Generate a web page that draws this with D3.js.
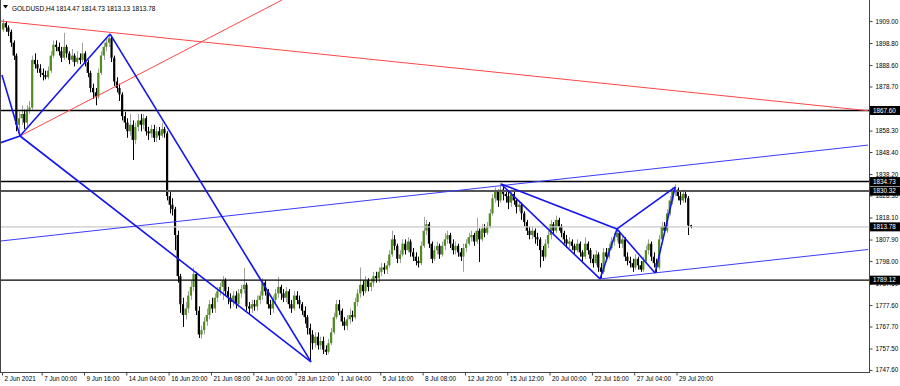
<!DOCTYPE html>
<html>
<head>
<meta charset="utf-8">
<script src="https://cdn.jsdelivr.net/npm/d3@7"></script>
<style>
body { margin: 0; background: #fff; }
#chart1 { width: 900px; height: 386px; }
text { font-family: 'Liberation Sans', Arial, sans-serif; }
</style>
</head>
<body>
<div id="chart1"></div>
<script>
'use strict';

var symbol = 'GOLDUSD,H4';
var firstOpen = 1905;

// H4 bars, 2 Jun - 30 Jul 2021 (open = previous close)
var closes = [
	1908, 1906, 1904, 1899, 1893, 1861, 1864, 1866, 1862, 1868,
	1869, 1891, 1889, 1887, 1885, 1884, 1883, 1886, 1893, 1898,
	1897, 1895, 1892, 1897, 1894, 1891, 1893, 1890, 1892, 1891,
	1894, 1890, 1885, 1878, 1876, 1874, 1885, 1893, 1897, 1899,
	1901, 1892, 1881, 1878, 1875, 1865, 1862, 1858, 1861, 1854,
	1860, 1863, 1861, 1864, 1858, 1857, 1859, 1855, 1858, 1856,
	1859, 1857, 1828, 1824, 1822, 1810, 1791, 1778, 1773, 1776,
	1782, 1786, 1792, 1775, 1764, 1766, 1770, 1773, 1778, 1776,
	1781, 1784, 1786, 1789, 1784, 1781, 1779, 1782, 1778, 1783,
	1785, 1787, 1777, 1776, 1778, 1777, 1780, 1782, 1788, 1784,
	1778, 1776, 1780, 1783, 1786, 1783, 1781, 1784, 1778, 1776,
	1782, 1780, 1778, 1775, 1772, 1767, 1764, 1760, 1763, 1759,
	1761, 1757, 1756, 1760, 1765, 1772, 1778, 1775, 1770, 1768,
	1771, 1773, 1772, 1779, 1783, 1787, 1784, 1789, 1786, 1788,
	1791, 1790, 1793, 1795, 1794, 1796, 1801, 1808, 1805, 1799,
	1801, 1806, 1803, 1807, 1802, 1800, 1798, 1797, 1805, 1812,
	1815, 1806, 1799, 1803, 1805, 1801, 1805, 1808, 1810, 1806,
	1803, 1805, 1802, 1800, 1804, 1806, 1809, 1810, 1807, 1812,
	1808, 1813, 1811, 1814, 1820, 1827, 1830, 1826, 1831, 1829,
	1828, 1825, 1829, 1826, 1823, 1824, 1820, 1816, 1812, 1810,
	1812, 1809, 1808, 1803, 1800, 1806, 1810, 1815, 1812, 1817,
	1814, 1811, 1808, 1806, 1807, 1805, 1803, 1806, 1802, 1800,
	1806, 1803, 1799, 1797, 1801, 1795, 1793, 1802, 1800, 1804,
	1807, 1809, 1811, 1806, 1808, 1800, 1798, 1797, 1795, 1799,
	1796, 1794, 1798, 1803, 1806, 1800, 1797, 1795, 1808, 1814,
	1812, 1820, 1826, 1830, 1831, 1828, 1826, 1829, 1827, 1814.47,
	1813.78
];

var highs = [
	1910, 1909, 1907, 1905, 1900, 1894, 1867, 1870, 1868, 1870,
	1872, 1893, 1894, 1891, 1889, 1887, 1886, 1888, 1895, 1900,
	1900, 1899, 1897, 1903.5, 1898, 1895, 1896, 1894, 1895, 1894,
	1899, 1895, 1891, 1886, 1880, 1878, 1887, 1895, 1899, 1901,
	1903, 1902, 1893, 1883, 1880, 1876, 1867, 1864, 1866, 1863,
	1862, 1866, 1866, 1866, 1865, 1860, 1861, 1861, 1860, 1860,
	1862, 1860, 1858, 1830, 1827, 1823, 1812, 1792, 1781, 1779,
	1784, 1789, 1795, 1793, 1777, 1768, 1772, 1776, 1780, 1781,
	1783, 1786, 1788, 1791, 1790, 1786, 1783, 1784, 1784, 1785,
	1787, 1794.8, 1788, 1779, 1780, 1780, 1782, 1784, 1790, 1789,
	1785, 1780, 1782, 1785, 1790.6, 1787, 1785, 1786, 1785, 1780,
	1784, 1784, 1782, 1779, 1777, 1773, 1769, 1766, 1765, 1765,
	1763, 1763, 1759, 1762, 1767, 1774, 1780, 1780, 1776, 1772,
	1773, 1776, 1775, 1781, 1785, 1795, 1789, 1791, 1790, 1790,
	1793, 1793, 1795, 1797, 1797, 1798, 1803, 1812, 1810, 1806,
	1803, 1808, 1808, 1809, 1808, 1804, 1802, 1800, 1807, 1818.4,
	1817, 1816, 1807, 1805, 1807, 1806, 1807, 1811, 1812, 1811,
	1808, 1807, 1806, 1804, 1806, 1808, 1811, 1812, 1811, 1818,
	1813, 1815, 1815, 1816, 1822, 1829, 1832, 1831, 1834, 1833,
	1831, 1830, 1831, 1830, 1827, 1826, 1825, 1821, 1817, 1814,
	1814, 1813, 1811, 1809, 1805, 1808, 1812, 1817, 1816, 1819,
	1818, 1815, 1812, 1810, 1809, 1808, 1806, 1808, 1807, 1803,
	1809, 1807, 1804, 1801, 1803, 1802, 1797, 1804, 1804, 1806,
	1809, 1811, 1812.5, 1812, 1810, 1809, 1802, 1800, 1799, 1801,
	1800, 1798, 1800, 1805, 1808, 1807, 1802, 1799, 1810, 1816,
	1816, 1822, 1828, 1832, 1833.5, 1832, 1830, 1831, 1830, 1828,
	1814.73
];

var lows = [
	1904, 1904, 1902, 1897, 1891, 1858, 1856, 1861, 1859, 1860,
	1866, 1868, 1887, 1885, 1883, 1881.5, 1882, 1882, 1885, 1892,
	1895, 1893, 1890, 1891, 1892, 1889, 1890, 1888, 1889, 1889,
	1890, 1888, 1883, 1876, 1873, 1870, 1873, 1884, 1891, 1895,
	1897, 1890, 1879, 1876, 1872, 1863, 1859, 1855, 1856, 1844.7,
	1852, 1858, 1858, 1859, 1856, 1854, 1855, 1853, 1853, 1854,
	1855, 1855, 1826, 1820, 1819, 1803, 1788, 1774, 1767.5, 1771,
	1774, 1780, 1784, 1773, 1762.4, 1762, 1764, 1768, 1771, 1774,
	1774, 1779, 1782, 1780, 1782, 1778, 1776, 1777, 1776, 1777,
	1781, 1783, 1775, 1773, 1774, 1775, 1775, 1778, 1780, 1782,
	1776, 1773, 1774, 1778, 1781, 1780, 1779, 1779, 1776, 1774,
	1775, 1778, 1776, 1773, 1769, 1764, 1751.3, 1757, 1758, 1757,
	1757, 1755, 1754.5, 1755, 1759, 1764, 1771, 1773, 1768, 1766,
	1766, 1769, 1770, 1771, 1777, 1781, 1782, 1783, 1784, 1784,
	1786, 1788, 1788, 1791, 1792, 1792, 1795, 1800, 1803, 1797,
	1797, 1800, 1801, 1802, 1800, 1798, 1796, 1795, 1796, 1804,
	1810, 1804, 1797, 1798, 1801, 1799, 1800, 1803, 1806, 1804,
	1801, 1801, 1800, 1798, 1793, 1802, 1805, 1807, 1805, 1806,
	1797.5, 1807, 1809, 1810, 1813, 1819, 1825, 1823, 1825, 1826,
	1825, 1822, 1823, 1824, 1820, 1821, 1817, 1814, 1810, 1808,
	1808, 1806, 1805, 1795, 1798, 1799, 1804, 1808, 1810, 1811,
	1812, 1809, 1806, 1804, 1804, 1803, 1801, 1802, 1800, 1797,
	1799, 1801, 1797, 1795, 1796, 1793, 1790, 1792, 1798, 1799,
	1803, 1805, 1807, 1804, 1804, 1798, 1796, 1795, 1793, 1794,
	1794, 1793, 1793, 1797, 1801, 1798, 1795, 1792.4, 1794, 1806,
	1810, 1811, 1819, 1824, 1828, 1826, 1824, 1825, 1825, 1810,
	1813.13
];

var timeTicks = [0, 15, 31, 47, 63, 79, 95, 111, 127, 143, 159, 175, 191, 207, 223, 239, 255];
var timeLabels = ['2 Jun 2021', '7 Jun 00:00', '9 Jun 16:00', '14 Jun 04:00', '16 Jun 20:00',
	'21 Jun 08:00', '24 Jun 00:00', '28 Jun 12:00', '1 Jul 04:00', '5 Jul 16:00', '8 Jul 08:00',
	'12 Jul 20:00', '15 Jul 12:00', '20 Jul 00:00', '22 Jul 16:00', '27 Jul 04:00', '29 Jul 20:00'];

// 1868.50 sits fully under the 1867.60 marker, left out
var priceTicks = [1909.00, 1898.80, 1888.60, 1878.70, 1858.30, 1848.40, 1838.20, 1828.30,
	1818.10, 1807.90, 1798.00, 1787.60, 1777.60, 1767.70, 1757.50, 1747.60];

// horizontal levels
var levels = [1867.60, 1834.73, 1789.12];
var levelGray = 1830.32;
var bid = 1813.78;

// trend lines as [[bar, price], [bar, price]]
var redLines = [
	[[-1.13, 1909.0], [327, 1867.5]],
	[[6.43, 1855.8], [105.5, 1918.7]]
];
var zigzagLines = [
	[[-0.4, 1884.0], [6.43, 1855.8]],
	[[-1.13, 1852.6], [6.43, 1855.8]],
	[[6.43, 1855.8], [40.45, 1903.0]],
	[[40.45, 1903.0], [116.45, 1751.3]],
	[[6.43, 1855.8], [116.45, 1751.3]],
	[[188.3, 1833.6], [225.7, 1789.7]],
	[[188.3, 1833.6], [232.1, 1812.8]],
	[[225.7, 1789.7], [232.1, 1812.8]],
	[[232.1, 1812.8], [246.5, 1792.4]],
	[[246.5, 1792.4], [254.1, 1832.2]],
	[[232.1, 1812.8], [254.1, 1832.2]]
];
var channelLines = [
	[[-1.13, 1807.2], [327, 1851.6]],
	[[225.7, 1789.7], [327, 1803.3]]
];

var W = 900, H = 386;
var plotR = 869, plotB = 372;

var svg = d3.select('#chart1').append('svg')
	.attr('width', W)
	.attr('height', H);

var x = d3.scaleLinear().domain([0, 327]).range([3, 868]);
var y = d3.scaleLinear().domain([1746.65, 1918.7]).range([plotB, 0]);

svg.append('clipPath').attr('id', 'clip')
	.append('rect').attr('x', 0).attr('y', 0).attr('width', plotR).attr('height', plotB);

var g = svg.append('g').attr('clip-path', 'url(#clip)');

var bars = closes.map(function(c, i) {
	return {i: i, o: i === 0 ? firstOpen : closes[i - 1], h: highs[i], l: lows[i], c: c};
});

// candles
var candle = g.selectAll('g.candle')
	.data(bars)
	.enter().append('g')
	.attr('class', 'candle');

candle.append('line')
	.attr('x1', function(d) { return Math.round(x(d.i)) + 0.5; })
	.attr('x2', function(d) { return Math.round(x(d.i)) + 0.5; })
	.attr('y1', function(d) { return y(d.h); })
	.attr('y2', function(d) { return y(d.l); })
	.style('stroke', function(d) { return d.c >= d.o ? '#a0a0a0' : '#000'; })
	.style('stroke-width', 1);

candle.append('rect')
	.attr('x', function(d) { return x(d.i) - 1; })
	.attr('width', 2.2)
	.attr('y', function(d) { return y(Math.max(d.o, d.c)); })
	.attr('height', function(d) { return Math.max(0.8, Math.abs(y(d.o) - y(d.c))); })
	.style('fill', function(d) { return d.c >= d.o ? '#4e8c1c' : '#000'; });

// levels
g.append('line')
	.attr('x1', 0).attr('x2', plotR)
	.attr('y1', y(bid)).attr('y2', y(bid))
	.style('stroke', '#c8c8c8').style('stroke-width', 1.2);

g.append('line')
	.attr('x1', 0).attr('x2', plotR)
	.attr('y1', y(levelGray)).attr('y2', y(levelGray))
	.style('stroke', '#555').style('stroke-width', 2);

g.selectAll('line.level')
	.data(levels)
	.enter().append('line')
	.attr('class', 'level')
	.attr('x1', 0).attr('x2', plotR)
	.attr('y1', function(d) { return y(d); })
	.attr('y2', function(d) { return y(d); })
	.style('stroke', '#000').style('stroke-width', 1.4);

var drawLines = function(data, color, width) {
	g.selectAll(null)
		.data(data)
		.enter().append('line')
		.attr('x1', function(d) { return x(d[0][0]); })
		.attr('y1', function(d) { return y(d[0][1]); })
		.attr('x2', function(d) { return x(d[1][0]); })
		.attr('y2', function(d) { return y(d[1][1]); })
		.style('stroke', color)
		.style('stroke-width', width);
}

drawLines(redLines, '#ff4646', 1);
drawLines(channelLines, '#3c3cff', 1);
drawLines(zigzagLines, '#1414f0', 1.6);

// frame
svg.append('line').attr('x1', 0.5).attr('x2', 0.5).attr('y1', 0).attr('y2', plotB)
	.style('stroke', '#444');
svg.append('line').attr('x1', plotR + 0.5).attr('x2', plotR + 0.5).attr('y1', 0).attr('y2', plotB)
	.style('stroke', '#444');
svg.append('line').attr('x1', 0).attr('x2', plotR + 1).attr('y1', plotB + 0.5).attr('y2', plotB + 0.5)
	.style('stroke', '#444');

// price axis
var yAxis = d3.axisRight(y)
	.tickValues(priceTicks)
	.tickFormat(d3.format('.2f'))
	.tickSize(3)
	.tickPadding(3);

var ya = svg.append('g')
	.attr('transform', 'translate(' + (plotR + 0.5) + ',0)')
	.call(yAxis);
ya.select('.domain').remove();
ya.selectAll('text').style('font-size', '6.3px').style('fill', '#000');
ya.selectAll('line').style('stroke', '#444');

// time axis
var xAxis = d3.axisBottom(x)
	.tickValues(timeTicks)
	.tickFormat(function(d, i) { return timeLabels[i]; })
	.tickSize(3);

var xa = svg.append('g')
	.attr('transform', 'translate(-1,' + (plotB + 0.5) + ')')
	.call(xAxis);
xa.select('.domain').remove();
xa.selectAll('text')
	.attr('text-anchor', 'start')
	.attr('x', 2)
	.attr('y', 4)
	.attr('dy', '0.71em')
	.style('font-size', '6.3px')
	.style('fill', '#000');
xa.selectAll('line').style('stroke', '#444');

// price markers on the axis
var markers = levels.concat([levelGray, bid]);
var mk = svg.selectAll('g.marker')
	.data(markers)
	.enter().append('g')
	.attr('class', 'marker')
	.attr('transform', function(d) { return 'translate(' + (plotR + 1) + ',' + y(d) + ')'; });
mk.append('rect')
	.attr('x', 0).attr('y', -4.5)
	.attr('width', 30).attr('height', 9)
	.style('fill', '#000');
mk.append('text')
	.attr('x', 3).attr('dy', '0.35em')
	.style('font-size', '6.3px')
	.style('fill', '#fff')
	.text(function(d) { return d3.format('.2f')(d); });

// title
var last = bars[bars.length - 1];
svg.append('path')
	.attr('d', 'M3,5 L8,5 L5.5,8.5 Z')
	.style('fill', '#000');
svg.append('text')
	.attr('x', 12).attr('y', 10.5)
	.style('font-size', '6.5px')
	.style('fill', '#000')
	.text(symbol + '  ' + [last.o, last.h, last.l, last.c].map(d3.format('.2f')).join(' '));
</script>
</body>
</html>
